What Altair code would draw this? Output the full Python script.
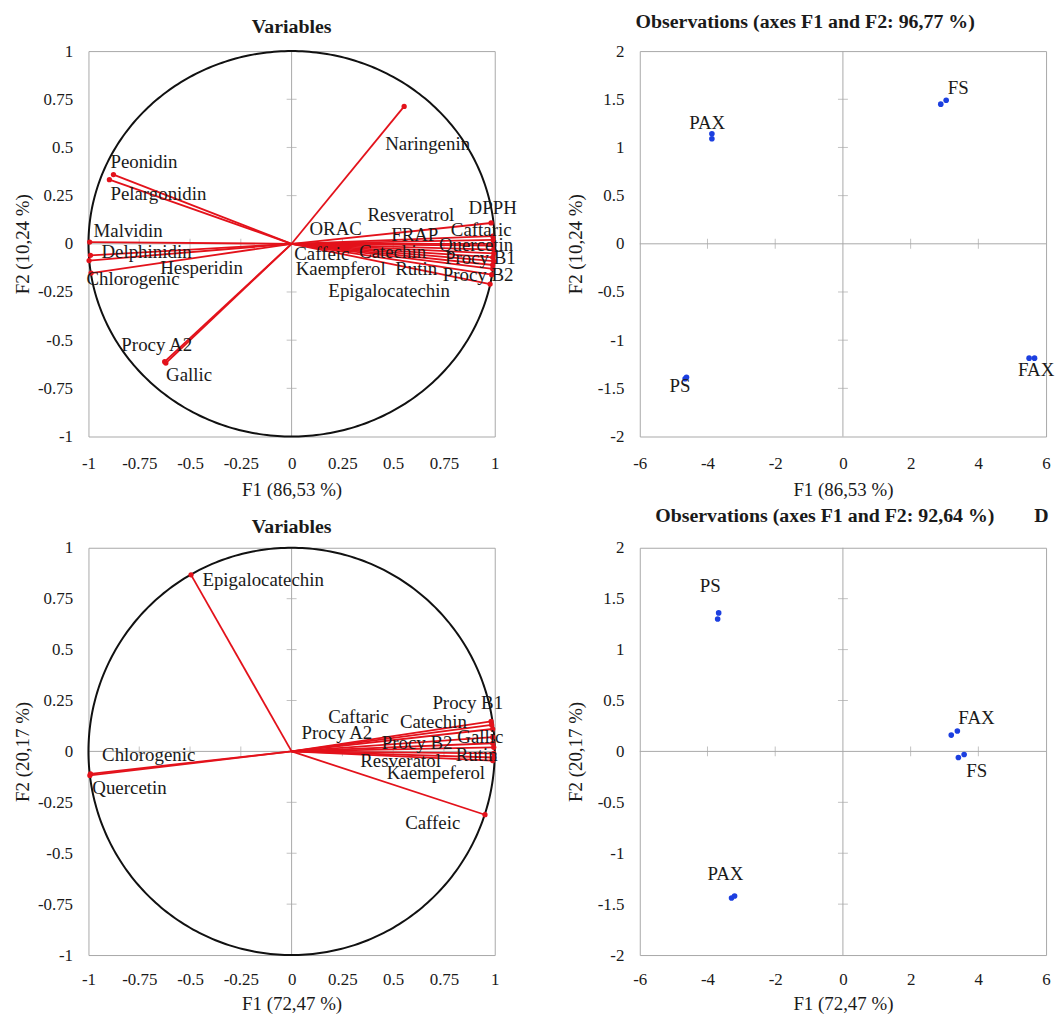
import altair as alt
import numpy as np
import pandas as pd

SERIF = "Liberation Serif"
RED = "#e3121b"
BLUE = "#1c3fe0"
GRAY = "#a8a8a8"
TXT = "#1a1a1a"

var_ticks = [-1, -0.75, -0.5, -0.25, 0, 0.25, 0.5, 0.75, 1]
obs_x_ticks = [-6, -4, -2, 0, 2, 4, 6]
obs_y_ticks = [-2, -1.5, -1, -0.5, 0, 0.5, 1, 1.5, 2]

# ---- Panel A: variables (F1 86,53 %, F2 10,24 %)
a_names = ["Naringenin", "Peonidin", "Pelargonidin", "Malvidin", "Delphinidin", "Hesperidin",
           "Chlorogenic", "Procy A2", "Gallic", "DPPH", "Resveratrol", "ORAC", "Caftaric", "FRAP",
           "Quercetin", "Catechin", "Caffeic", "Procy B1", "Kaempferol", "Rutin", "Epigalocatechin",
           "Procy B2"]
a_x = [0.554, -0.877, -0.897, -0.994, -0.997, -0.990, -0.987, -0.619, -0.625, 0.982, 0.990, 0.992,
       0.995, 0.995, 0.995, 0.995, 0.990, 0.995, 0.990, 0.990, 0.985, 0.977]
a_y = [0.713, 0.359, 0.333, 0.009, -0.087, -0.060, -0.152, -0.619, -0.612, 0.108, 0.040, 0.020,
       0.000, -0.010, -0.030, -0.050, -0.070, -0.090, -0.110, -0.130, -0.160, -0.209]
a_lx = [0.461, -0.892, -0.892, -0.975, -0.936, -0.647, -1.010, -0.838, -0.618, 0.871, 0.373, 0.088,
        0.784, 0.490, 0.725, 0.332, 0.013, 0.755, 0.020, 0.510, 0.181, 0.744]
a_ly = [0.518, 0.426, 0.256, 0.067, -0.041, -0.128, -0.185, -0.523, -0.682, 0.185, 0.150, 0.078,
        0.073, 0.043, -0.009, -0.043, -0.051, -0.072, -0.132, -0.133, -0.243, -0.163]

# ---- Panel B: observations (top)
b_labels = ["PAX", "PAX", "FS", "FS", "PS", "PS", "FAX", "FAX"]
b_x = [-3.87, -3.87, 2.89, 3.05, -4.66, -4.62, 5.50, 5.66]
b_y = [1.142, 1.090, 1.449, 1.490, -1.400, -1.385, -1.187, -1.187]
b_lab = ["PAX", "FS", "PS", "FAX"]
b_lx = [-4.54, 3.10, -5.12, 5.17]
b_ly = [1.253, 1.620, -1.480, -1.307]

# ---- Panel C: variables (F1 72,47 %, F2 20,17 %)
c_names = ["Epigalocatechin", "Chlorogenic", "Quercetin", "Caffeic", "Procy B1", "Caftaric",
           "Catechin", "Procy A2", "Gallic", "Procy B2", "Resveratol", "Rutin", "Kaempeferol"]
c_x = [-0.495, -0.990, -0.993, 0.952, 0.982, 0.990, 0.985, 0.995, 0.990, 0.990, 0.995, 0.995, 0.990]
c_y = [0.867, -0.110, -0.118, -0.311, 0.147, 0.110, 0.130, 0.020, 0.070, 0.040, -0.010, -0.030, -0.045]
c_lx = [-0.439, -0.933, -0.981, 0.559, 0.693, 0.180, 0.533, 0.049, 0.816, 0.444, 0.338, 0.808, 0.468]
c_ly = [0.840, -0.019, -0.180, -0.350, 0.236, 0.171, 0.142, 0.091, 0.073, 0.042, -0.049, -0.019, -0.105]

# ---- Panel D: observations (bottom)
d_labels = ["PS", "PS", "FAX", "FAX", "FS", "FS", "PAX", "PAX"]
d_x = [-3.67, -3.70, 3.20, 3.38, 3.41, 3.58, -3.29, -3.20]
d_y = [1.360, 1.300, 0.160, 0.200, -0.060, -0.030, -1.440, -1.420]
d_lab = ["PS", "FAX", "FS", "PAX"]
d_lx = [-4.23, 3.41, 3.64, -4.00]
d_ly = [1.620, 0.324, -0.189, -1.206]


def make_axis(title, values, lp, tp):
    return alt.Axis(title=title, values=values, labelExpr="datum.value + ''", ticks=False,
                    domain=False, grid=False, labelFlush=False, labelOverlap=False,
                    labelFont=SERIF, labelFontSize=17, labelColor=TXT,
                    titleFont=SERIF, titleFontSize=19, titleFontWeight="normal", titleColor=TXT,
                    labelPadding=lp, titlePadding=tp)


def frame_layers(X, Y, xt, yt, tick_len):
    zero = pd.DataFrame({"v": [0.0]})
    vline = alt.Chart(zero).mark_rule(color=GRAY, strokeWidth=1).encode(x=X("v"))
    hline = alt.Chart(zero).mark_rule(color=GRAY, strokeWidth=1).encode(y=Y("v"))
    yt_in = [t for t in yt if t not in (0, yt[0], yt[-1])]
    xt_in = [t for t in xt if t not in (0, xt[0], xt[-1])]
    ty = pd.DataFrame({"t": yt_in, "z": 0.0})
    tx = pd.DataFrame({"t": xt_in, "z": 0.0})
    ticks_y = alt.Chart(ty).mark_tick(orient="horizontal", size=tick_len, thickness=1,
                                      color=GRAY).encode(x=X("z"), y=Y("t"))
    ticks_x = alt.Chart(tx).mark_tick(orient="vertical", size=tick_len, thickness=1,
                                      color=GRAY).encode(x=X("t"), y=Y("z"))
    return [vline, hline, ticks_y, ticks_x]


def encoders(xdom, ydom, xt, yt, xtitle, ytitle, xlp, xtp, ytp):
    xsc = alt.Scale(domain=xdom, nice=False, zero=False)
    ysc = alt.Scale(domain=ydom, nice=False, zero=False)
    xax = make_axis(xtitle, xt, xlp, xtp)
    yax = make_axis(ytitle, yt, 16, ytp)

    def X(f):
        return alt.X(f, type="quantitative", scale=xsc, axis=xax, title=xtitle)

    def Y(f):
        return alt.Y(f, type="quantitative", scale=ysc, axis=yax, title=ytitle)
    return X, Y


def var_panel(names, vx, vy, lx, ly, xtitle, ytitle, title, w, h, toff, xlp, xtp):
    X, Y = encoders([-1, 1], [-1, 1], var_ticks, var_ticks, xtitle, ytitle, xlp, xtp, 5)
    vec = pd.DataFrame({"name": names, "x": vx, "y": vy, "x0": 0.0, "y0": 0.0})
    lab = pd.DataFrame({"name": names, "lx": lx, "ly": ly})
    th = np.linspace(0, 2 * np.pi, 361)
    circ = pd.DataFrame({"cx": np.cos(th), "cy": np.sin(th), "o": np.arange(len(th))})
    layers = frame_layers(X, Y, var_ticks, var_ticks, 10)
    circle = alt.Chart(circ).mark_line(color="#111111", strokeWidth=2).encode(
        x=X("cx"), y=Y("cy"), order="o:Q")
    rules = alt.Chart(vec).mark_rule(color=RED, strokeWidth=1.8).encode(
        x=X("x0"), y=Y("y0"), x2="x:Q", y2="y:Q")
    dots = alt.Chart(vec).mark_circle(color=RED, size=28, opacity=1).encode(x=X("x"), y=Y("y"))
    texts = alt.Chart(lab).mark_text(align="left", baseline="middle", font=SERIF, fontSize=19,
                                     color=TXT).encode(x=X("lx"), y=Y("ly"), text="name:N")
    return alt.layer(*layers, circle, rules, dots, texts).properties(
        width=w, height=h,
        title=alt.TitleParams(text=title, font=SERIF, fontSize=20, fontWeight="bold",
                              offset=toff, color=TXT))


def obs_panel(labels, px, py, lab, lx, ly, xtitle, ytitle, title, w, h, toff, tdx, xlp, xtp):
    X, Y = encoders([-6, 6], [-2, 2], obs_x_ticks, obs_y_ticks, xtitle, ytitle, xlp, xtp, 12)
    pts = pd.DataFrame({"obs": labels, "x": px, "y": py})
    labs = pd.DataFrame({"obs": lab, "lx": lx, "ly": ly})
    layers = frame_layers(X, Y, obs_x_ticks, obs_y_ticks, 10)
    points = alt.Chart(pts).mark_circle(color=BLUE, size=32, opacity=1).encode(x=X("x"), y=Y("y"))
    texts = alt.Chart(labs).mark_text(align="left", baseline="middle", font=SERIF, fontSize=19,
                                      color=TXT).encode(x=X("lx"), y=Y("ly"), text="obs:N")
    return alt.layer(*layers, points, texts).properties(
        width=w, height=h,
        title=alt.TitleParams(text=title, font=SERIF, fontSize=20, fontWeight="bold",
                              offset=toff, dx=tdx, color=TXT))


W = 409
H_TOP = 388
H_BOT = 410

pA = var_panel(a_names, a_x, a_y, a_lx, a_ly, "F1 (86,53 %)", "F2 (10,24 %)", "Variables",
               W, H_TOP, 5, 19, 9)
pB = obs_panel(b_labels, b_x, b_y, b_lab, b_lx, b_ly, "F1 (86,53 %)", "F2 (10,24 %)",
               "Observations (axes F1 and F2: 96,77 %)", W, H_TOP, 10, -38, 19, 9)

pC = var_panel(c_names, c_x, c_y, c_lx, c_ly, "F1 (72,47 %)", "F2 (20,17 %)", "Variables",
               W, H_BOT, 2, 17, 7)
pD = obs_panel(d_labels, d_x, d_y, d_lab, d_lx, d_ly, "F1 (72,47 %)", "F2 (20,17 %)",
               "Observations (axes F1 and F2: 92,64 %)\u2003\u2003D", W, H_BOT, 13, 9, 17, 7)

chart = alt.concat(pA, pB, pC, pD, columns=2, spacing={"row": 112, "column": 146},
                   bounds="flush").properties(
    padding={"left": 5, "top": 0, "right": 0, "bottom": 0},
    background="white",
).configure_view(stroke=GRAY, strokeWidth=1)

chart.save("out.html", embed_options={"renderer": "svg", "actions": False})
